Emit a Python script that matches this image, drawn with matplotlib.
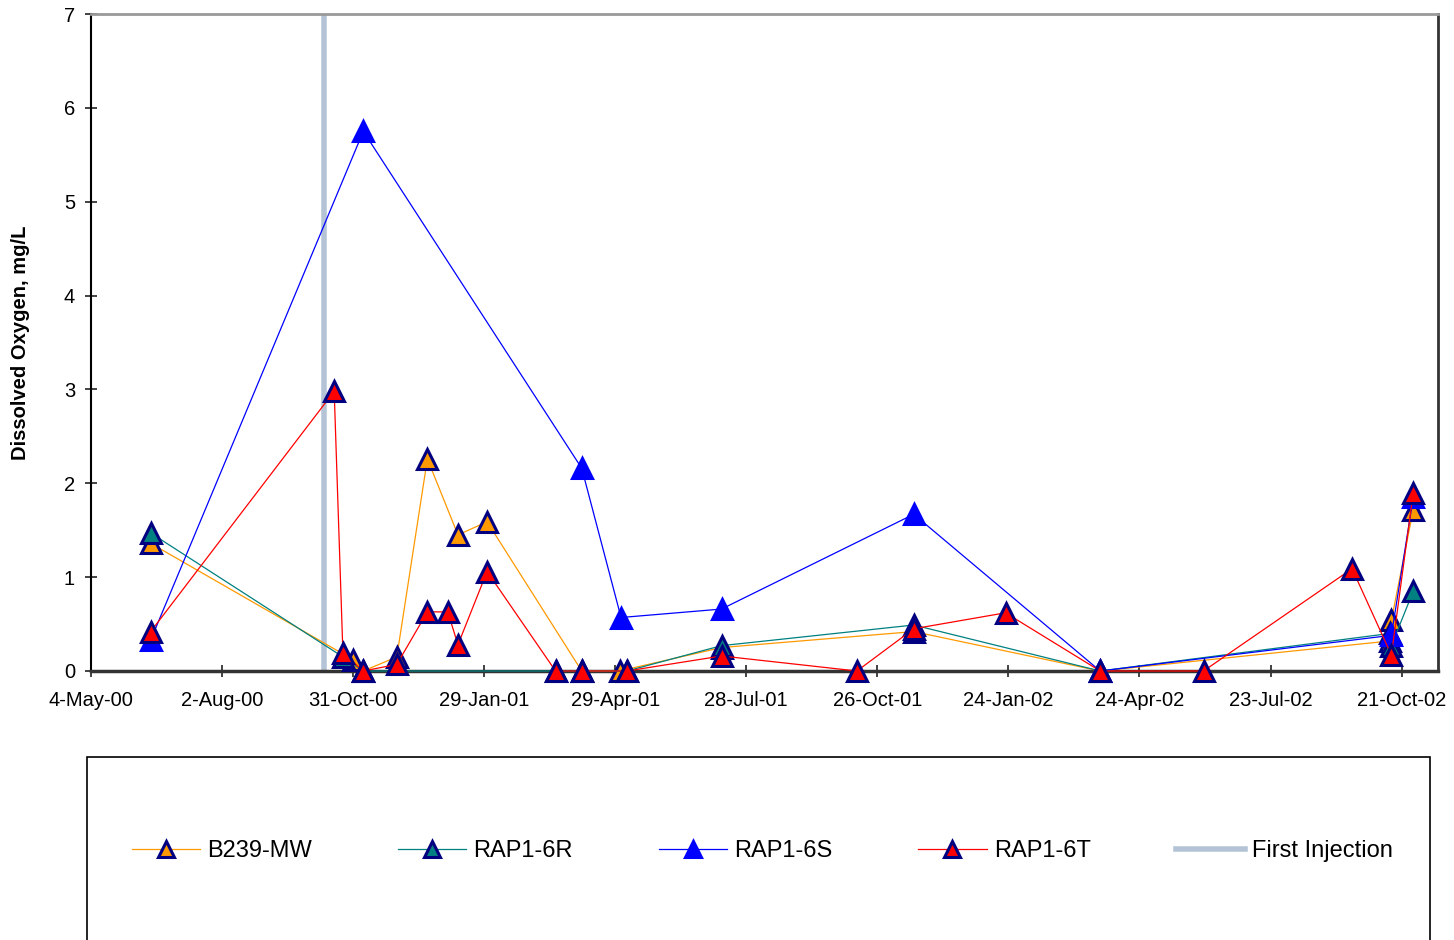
import matplotlib
matplotlib.use("Agg")
import matplotlib.pyplot as plt
import matplotlib.dates as mdates
from matplotlib.ticker import FuncFormatter
from matplotlib.patches import Rectangle
from matplotlib.lines import Line2D
import pandas as pd

plt.rcParams['font.family'] = ['Liberation Sans', 'DejaVu Sans']

# ---- data ----
b239_dates = ["2000-06-14", "2000-10-31", "2000-11-07", "2000-11-30", "2000-12-21",
              "2001-01-11", "2001-01-31", "2001-04-06", "2001-05-02", "2001-07-11",
              "2001-11-20", "2002-03-28", "2002-10-13", "2002-10-14", "2002-10-29"]
b239_vals = [1.36, 0.12, 0.0, 0.15, 2.26, 1.45, 1.59, 0.0, 0.0, 0.25,
             0.42, 0.0, 0.32, 0.54, 1.72]

r6r_dates = ["2000-06-14", "2000-10-24", "2000-11-07", "2001-03-19", "2001-04-06",
             "2001-05-07", "2001-07-11", "2001-11-20", "2002-03-28", "2002-10-13",
             "2002-10-14", "2002-10-29"]
r6r_vals = [1.47, 0.15, 0.0, 0.0, 0.0, 0.0, 0.27, 0.49, 0.0, 0.40, 0.27, 0.85]

r6s_dates = ["2000-06-14", "2000-11-07", "2001-04-06", "2001-05-03", "2001-07-11",
             "2001-11-20", "2002-03-28", "2002-10-14", "2002-10-29"]
r6s_vals = [0.33, 5.75, 2.16, 0.57, 0.66, 1.67, 0.0, 0.38, 1.85]

r6t_dates = ["2000-06-14", "2000-10-18", "2000-10-24", "2000-11-07", "2000-11-30",
             "2000-12-21", "2001-01-04", "2001-01-11", "2001-01-31", "2001-03-19",
             "2001-04-06", "2001-05-07", "2001-07-11", "2001-10-12", "2001-11-20",
             "2002-01-22", "2002-03-28", "2002-06-07", "2002-09-17", "2002-10-14",
             "2002-10-29"]
r6t_vals = [0.42, 2.98, 0.19, 0.0, 0.07, 0.63, 0.63, 0.28, 1.06, 0.0,
            0.0, 0.0, 0.16, 0.0, 0.45, 0.62, 0.0, 0.0, 1.09, 0.17, 1.9]

first_injection = "2000-10-11"
series_names = ["B239-MW", "RAP1-6R", "RAP1-6S", "RAP1-6T"]
y_ticks = [0, 1, 2, 3, 4, 5, 6, 7]
x_start = "2000-05-04"
x_end = "2002-11-15"
tick_step_days = 90

# ---- figure ----
fig = plt.figure(figsize=(14.54, 9.40), dpi=100)
ax = fig.add_axes([91/1454, 1-671/940, (1438-91)/1454, (671-14)/940])

navy = "#000080"
styles = [
    dict(color="#FF9900", mfc="#FF9900", mec=navy),
    dict(color="#008080", mfc="#008080", mec=navy),
    dict(color="#0000FF", mfc="#0000FF", mec="#0000FF"),
    dict(color="#FF0000", mfc="#FF0000", mec=navy),
]
all_data = [(b239_dates, b239_vals), (r6r_dates, r6r_vals),
            (r6s_dates, r6s_vals), (r6t_dates, r6t_vals)]

handles = []
for i, ((d, v), st, name) in enumerate(zip(all_data, styles, series_names)):
    dd = pd.to_datetime(d)
    h, = ax.plot(dd, v, color=st["color"], lw=0.9, marker="^", ms=15,
                 mfc=st["mfc"], mec=st["mec"], mew=2.2, clip_on=False,
                 zorder=3 + i, label=name)
    handles.append(h)

fi = pd.to_datetime(first_injection)
ax.axvline(fi, color="#B4C4D6", lw=4, zorder=2)
fi_handle = Line2D([], [], color="#B4C4D6", lw=4)

ax.set_xlim(pd.to_datetime(x_start), pd.to_datetime(x_end))
ax.set_ylim(0, 7)
ax.set_yticks(y_ticks)

start = pd.to_datetime(x_start)
xt = [start + pd.Timedelta(days=tick_step_days * k) for k in range(11)]
ax.set_xticks(xt)
ax.xaxis.set_major_formatter(FuncFormatter(
    lambda x, p: (lambda dt: f"{dt.day}-{dt.strftime('%b-%y')}")(mdates.num2date(x))))

ax.tick_params(axis='both', direction='inout', length=9, width=1.2,
               labelsize=14.5, colors='#222222', labelcolor='black')
ax.tick_params(axis='x', pad=10)
ax.tick_params(axis='y', pad=7)

ax.spines['left'].set_color('black')
ax.spines['left'].set_linewidth(1.5)
ax.spines['bottom'].set_color('#333333')
ax.spines['bottom'].set_linewidth(2.5)
ax.spines['top'].set_color('#999999')
ax.spines['top'].set_linewidth(2)
ax.spines['right'].set_color('#333333')
ax.spines['right'].set_linewidth(2)

ax.set_ylabel("Dissolved Oxygen, mg/L", fontsize=14.5, fontweight='bold', labelpad=24)

# legend frame
rect = Rectangle((87/1454, -0.2), (1430-87)/1454, 0.2 + (1-757/940),
                 transform=fig.transFigure, fill=False, edgecolor='black', lw=1.2)
fig.patches.append(rect)

leg = fig.legend(handles + [fi_handle], series_names + ["First Injection"],
                 loc='center left', bbox_to_anchor=(120/1454, 1-851/940),
                 ncol=5, frameon=False, fontsize=17, handlelength=2.9,
                 handletextpad=0.3, columnspacing=3.63, borderpad=0,
                 markerscale=0.75)

fig.savefig("out.png", dpi=100)
